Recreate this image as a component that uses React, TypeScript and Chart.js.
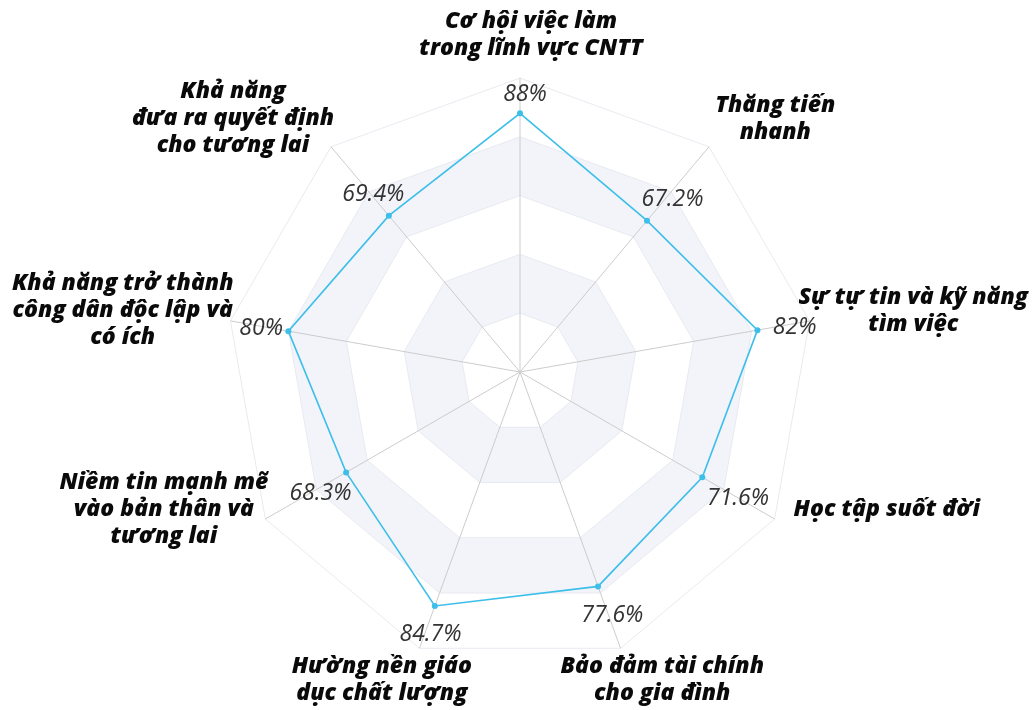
import React, { useEffect, useRef } from "react";
import { Chart, registerables } from "chart.js";

Chart.register(...registerables);

const categories: string[][] = [
  ["Cơ hội việc làm", "trong lĩnh vực CNTT"],
  ["Thăng tiến", "nhanh"],
  ["Sự tự tin và kỹ năng", "tìm việc"],
  ["Học tập suốt đời"],
  ["Bảo đảm tài chính", "cho gia đình"],
  ["Hường nền giáo", "dục chất lượng"],
  ["Niềm tin mạnh mẽ", "vào bản thân và", "tương lai"],
  ["Khả năng trở thành", "công dân độc lập và", "có ích"],
  ["Khả năng", "đưa ra quyết định", "cho tương lai"],
];

const values: number[] = [88, 67.2, 82, 71.6, 77.6, 84.7, 68.3, 80, 69.4];
const valueLabels: string[] = ["88%", "67.2%", "82%", "71.6%", "77.6%", "84.7%", "68.3%", "80%", "69.4%"];
const bandRanges: number[][] = [
  [20, 40],
  [60, 80],
];

const LINE_COLOR = "#3dbfe9";
const BAND_COLOR = "#f3f4fa";

const bandsPlugin = {
  id: "bands",
  beforeDraw(chart: any) {
    const scale = chart.scales.r;
    const ctx = chart.ctx;
    const n = chart.data.labels.length;
    ctx.save();
    ctx.fillStyle = BAND_COLOR;
    bandRanges.forEach(([lo, hi]) => {
      ctx.beginPath();
      for (let i = 0; i < n; i++) {
        const p = scale.getPointPositionForValue(i, hi);
        if (i === 0) ctx.moveTo(p.x, p.y);
        else ctx.lineTo(p.x, p.y);
      }
      ctx.closePath();
      for (let i = n - 1; i >= 0; i--) {
        const p = scale.getPointPositionForValue(i, lo);
        if (i === n - 1) ctx.moveTo(p.x, p.y);
        else ctx.lineTo(p.x, p.y);
      }
      ctx.closePath();
      ctx.fill("evenodd");
    });
    ctx.restore();
  },
};

const labelsPlugin = {
  id: "customLabels",
  afterDatasetsDraw(chart: any) {
    const scale = chart.scales.r;
    const ctx = chart.ctx;
    const cx0 = scale.xCenter;
    const cy0 = scale.yCenter;
    const n = categories.length;
    ctx.save();
    // value labels
    ctx.font = 'italic 400 23px "Open Sans"';
    ctx.fillStyle = "#333333";
    ctx.textAlign = "center";
    ctx.textBaseline = "middle";
    for (let i = 0; i < n; i++) {
      const v = scale.getPointPositionForValue(i, 100);
      const R = Math.hypot(v.x - cx0, v.y - cy0);
      const dx = (v.x - cx0) / R;
      const dy = (v.y - cy0) / R;
      const p = scale.getPointPositionForValue(i, values[i]);
      const w = ctx.measureText(valueLabels[i]).width;
      const d = 22 + Math.abs(dx) * w / 4;
      ctx.fillText(valueLabels[i], p.x + dx * d + 5, p.y + dy * d + 3);
    }
    // category labels
    ctx.font = 'italic 800 23px "Open Sans"';
    ctx.fillStyle = "#0a0a0a";
    const lh = 27;
    for (let i = 0; i < n; i++) {
      const v = scale.getPointPositionForValue(i, 100);
      const R = Math.hypot(v.x - cx0, v.y - cy0);
      const dx = (v.x - cx0) / R;
      const dy = (v.y - cy0) / R;
      const lines = categories[i];
      const W = Math.max(...lines.map((l) => ctx.measureText(l).width));
      const H = lines.length * lh;
      let cx: number;
      let cy: number;
      if (dy < -0.95) {
        cx = v.x + 11;
        cy = v.y - 16 - H / 2;
      } else if (dy > 0.9) {
        cx = v.x + dx * (W / 2 + 20);
        cy = v.y + 5 + H / 2;
      } else if (dx > 0) {
        const left = v.x + 14 + dy * 10;
        cx = left + W / 2;
        if (cx + W / 2 > chart.width - 6) cx = chart.width - 6 - W / 2;
        cy = v.y - 10 + Math.min(0, dy + 0.17) * 30;
      } else {
        const right = v.x + 3;
        cx = right - W / 2;
        cy = v.y - 10 + Math.min(0, dy + 0.17) * 30;
      }
      const top = cy - H / 2;
      lines.forEach((l, k) => {
        ctx.fillText(l, cx, top + lh * k + lh / 2);
      });
    }
    ctx.restore();
  },
};

export default function App() {
  const canvasRef = useRef<HTMLCanvasElement | null>(null);

  useEffect(() => {
    if (!canvasRef.current) return;
    const chart = new Chart(canvasRef.current, {
      type: "radar",
      data: {
        labels: categories,
        datasets: [
          {
            data: values,
            borderColor: LINE_COLOR,
            backgroundColor: LINE_COLOR,
            borderWidth: 1.6,
            fill: false,
            pointRadius: 3,
            pointBackgroundColor: LINE_COLOR,
            pointBorderWidth: 0,
          },
        ],
      },
      options: {
        animation: false,
        responsive: false,
        layout: { padding: { left: 226, right: 220, top: 78, bottom: 44 } },
        plugins: {
          legend: { display: false },
          tooltip: { enabled: false },
        },
        scales: {
          r: {
            min: 0,
            max: 100,
            ticks: { display: false, stepSize: 20 },
            pointLabels: { display: false },
            grid: { color: "#e8eaf1", lineWidth: 1 },
            angleLines: { color: "#cccccc", lineWidth: 1 },
          },
        },
      },
      plugins: [bandsPlugin, labelsPlugin],
    });
    return () => chart.destroy();
  }, []);

  return (
    <div style={{ position: "absolute", left: 0, top: 0, width: 1034, height: 710 }}>
      <canvas ref={canvasRef} width={1034} height={710} />
    </div>
  );
}
